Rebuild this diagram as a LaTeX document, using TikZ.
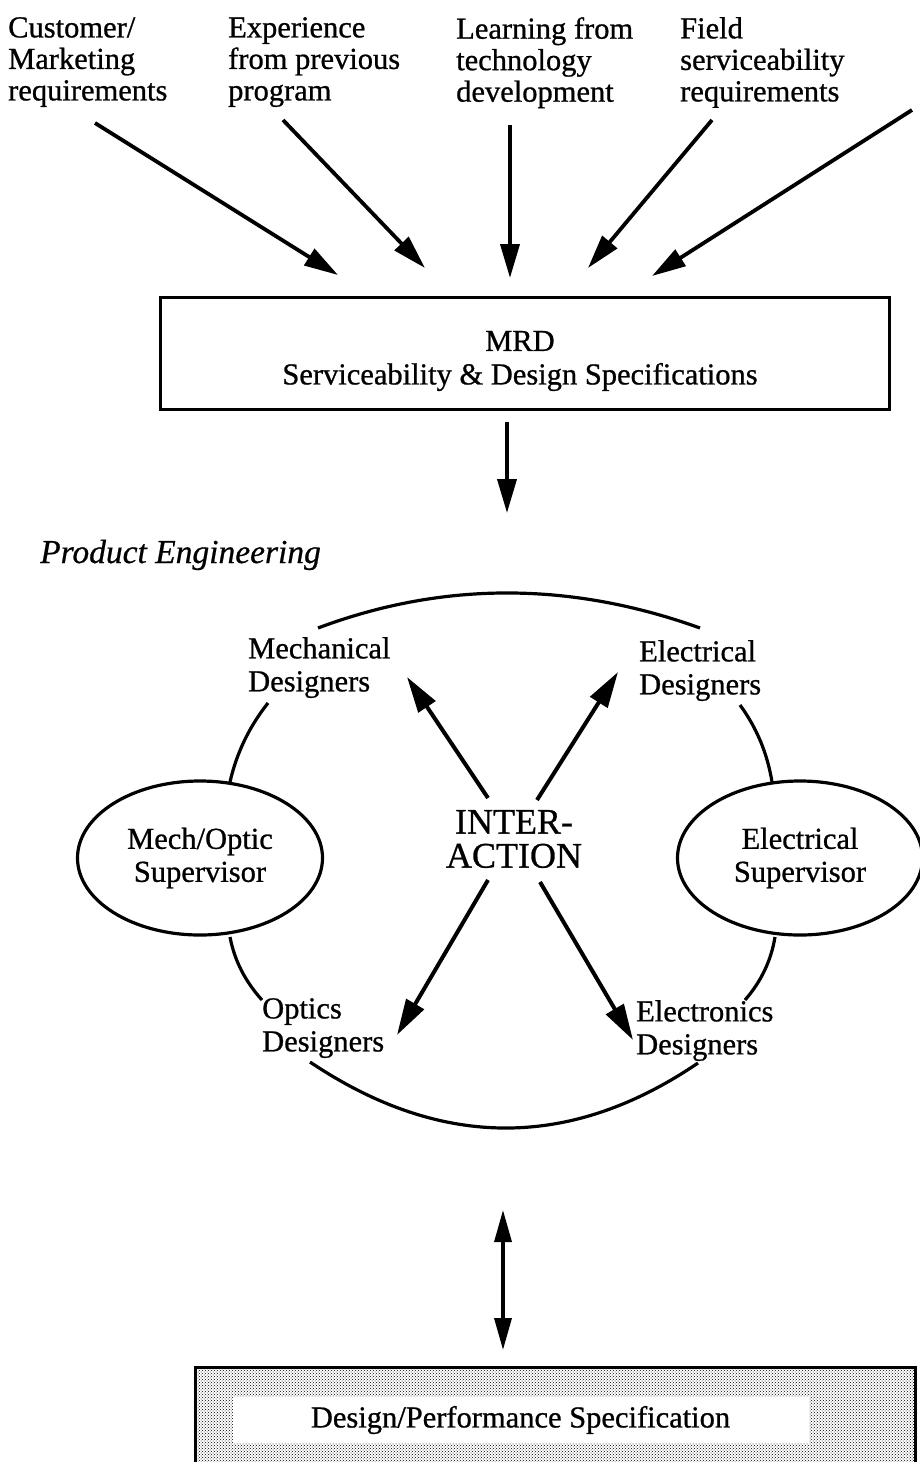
\documentclass[tikz,border=0pt]{standalone}
\usepackage{fontspec}
\setmainfont{Liberation Serif}[UprightFeatures={FakeBold=0.8},ItalicFeatures={FakeBold=0.6}]
\usetikzlibrary{arrows.meta,shapes.geometric,patterns}
\begin{document}
\begin{tikzpicture}[x=1pt,y=-1pt,
  every node/.style={inner sep=0pt},
  lbl/.style={align=left, anchor=north west, font=\fontsize{30.5}{31.5}\selectfont},
  dlbl/.style={align=left, anchor=north west, font=\fontsize{30.5}{33}\selectfont},
  flow/.style={line width=3.8pt, -{Triangle[length=34pt,width=19pt]}},
  xarrow/.style={line width=4pt, -{Triangle[length=36pt,width=20pt]}},
  ring/.style={line width=3.2pt},
  sup/.style={ellipse, draw, line width=3.2pt, fill=white, minimum width=245pt,
    minimum height=154pt, align=center, font=\fontsize{30.5}{33}\selectfont},
]
\useasboundingbox (0,0) rectangle (920,1462);

% input sources
\node[lbl] (cust)  at (8,17)   {Customer/\\Marketing\\requirements};
\node[lbl] (exp)   at (228,17) {Experience\\from previous\\program};
\node[lbl] (learn) at (456,17) {Learning from\\technology\\development};
\node[lbl] (field) at (680,17) {Field\\serviceability\\requirements};

\coordinate (s1) at (95,123);  \coordinate (t1) at (338,275);
\coordinate (s2) at (283,120); \coordinate (t2) at (425,268);
\coordinate (s3) at (510,125); \coordinate (t3) at (510,278);
\coordinate (s4) at (712,120); \coordinate (t4) at (588,268);
\coordinate (s5) at (912,110); \coordinate (t5) at (652,276);
\foreach \i in {1,...,5} \draw[flow] (s\i) -- (t\i);

% MRD box
\node[draw, line width=3pt, minimum width=729pt, minimum height=112pt] (mrd) at (524.5,353) {};
\node[align=center, font=\fontsize{30.5}{33.5}\selectfont] (mrdtext) at (520,361)
  {MRD\\Serviceability \& Design Specifications};
\coordinate (d0) at (507,422); \coordinate (d1) at (507,513);
\draw[flow] (d0) -- (d1);

\node[anchor=base west, font=\itshape\fontsize{33.5}{35}\selectfont] (pe) at (40,563)
  {Product Engineering};

% ring of designers
\draw[ring] (318,628) .. controls (442.7,581.3) and (570,581.3) .. (700,628);
\draw[ring] (310,1062) .. controls (440.7,1149.7) and (570,1150) .. (698,1063);
\draw[ring] (268,703) .. controls (249.3,726.6) and (236.6,752.9) .. (230,782);
\draw[ring] (230,937) .. controls (234.5,960.5) and (245.2,981.5) .. (262,1000);
\draw[ring] (740,705) .. controls (756.7,727.9) and (767.4,753.5) .. (772,782);
\draw[ring] (775,937) .. controls (771.1,960.6) and (761.1,981.6) .. (745,1000);

\node[dlbl] (mech) at (248,637)  {Mechanical\\Designers};
\node[dlbl] (elec) at (639,640)  {Electrical\\Designers};
\node[dlbl] (opt)  at (262,998)  {Optics\\Designers};
\node[dlbl] (elo)  at (636,1000) {Electronics\\Designers};

\node[sup] (mos)  at (200,858) {Mech/Optic\\Supervisor};
\node[sup] (esup) at (800,858) {Electrical\\Supervisor};

\node[align=center, font=\fontsize{36}{34}\selectfont] (inter) at (514,839)
  {INTER-\\ACTION};

\coordinate (nw0) at (488,798); \coordinate (nw1) at (407,677);
\coordinate (ne0) at (537,800); \coordinate (ne1) at (618,672);
\coordinate (sw0) at (488,880); \coordinate (sw1) at (397,1035);
\coordinate (se0) at (540,882); \coordinate (se1) at (633,1040);
\draw[xarrow] (nw0) -- (nw1);
\draw[xarrow] (ne0) -- (ne1);
\draw[xarrow] (sw0) -- (sw1);
\draw[xarrow] (se0) -- (se1);

% link to the specification
\coordinate (b0) at (503,1210); \coordinate (b1) at (503,1350);
\draw[line width=3.4pt, {Triangle[length=32pt,width=17pt]}-{Triangle[length=32pt,width=17pt]}] (b0) -- (b1);

% design / performance specification
\path[pattern=crosshatch dots, pattern color=black] (195,1367) rectangle (915,1480);
\draw[line width=3pt] (195,1480) -- (195,1367) -- (915,1367) -- (915,1480);
\node[fill=white, minimum width=576pt, minimum height=46pt,
  font=\fontsize{30.5}{33}\selectfont] (dps) at (520.5,1420)
  {Design/Performance Specification};
\end{tikzpicture}
\end{document}
